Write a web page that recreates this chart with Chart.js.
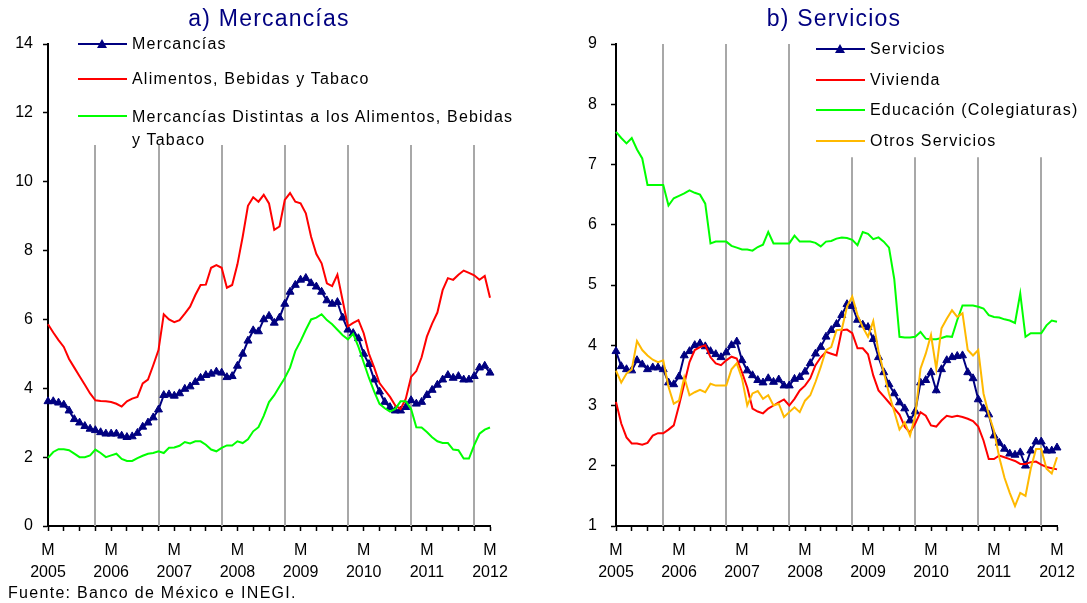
<!DOCTYPE html>
<html>
<head>
<meta charset="utf-8">
<script src="https://cdn.jsdelivr.net/npm/chart.js@4.4.1/dist/chart.umd.min.js"></script>
<style>
  html,body{margin:0;padding:0;background:#fff;}
  #wrap{position:relative;width:1087px;height:603px;overflow:hidden;font-family:"Liberation Sans",Arial,sans-serif;}
  canvas{position:absolute;top:0;}
  .title{position:absolute;top:4px;font-size:23px;letter-spacing:1.2px;color:#000080;white-space:nowrap;transform:translateX(-50%);line-height:28px;}
  .lg{position:absolute;height:2px;}
  .lt{position:absolute;font-size:16px;letter-spacing:1.2px;color:#000;line-height:22px;white-space:nowrap;}
  .tri{position:absolute;width:0;height:0;border-left:5px solid transparent;border-right:5px solid transparent;border-bottom:9px solid #000080;}
  #foot{position:absolute;left:8px;top:583px;font-size:16px;letter-spacing:1.3px;line-height:20px;color:#000;white-space:nowrap;}
</style>
</head>
<body>
<div id="wrap">
  <canvas id="c1" width="540" height="603" style="left:0px"></canvas>
  <canvas id="c2" width="547" height="603" style="left:540px"></canvas>
  <div class="title" style="left:269px">a) Mercancías</div>
  <div class="title" style="left:834px">b) Servicios</div>
  <div id="legends"></div>
  <div id="foot">Fuente: Banco de México e INEGI.</div>
</div>
<script>
// ---- categories (monthly, Mar 2005 - Mar 2012) ----
const startYear = 2005, startMonth = 3, nMonths = 85;
const months = [];
for (let k = 0; k < nMonths; k++) {
  const m = startMonth - 1 + k;
  months.push((startYear + Math.floor(m / 12)) + '-' + String(m % 12 + 1).padStart(2, '0'));
}
const tickMonthLetter = 'M';
const tickYears = ['2005','2006','2007','2008','2009','2010','2011','2012'];

// ---- a) Mercancías ----
const mercancias = [
  3.62,3.62,3.58,3.52,3.35,3.10,3.00,2.90,2.82,2.78,2.72,2.68,
  2.68,2.68,2.62,2.58,2.60,2.70,2.88,3.00,3.15,3.38,3.80,3.82,
  3.78,3.85,3.98,4.05,4.18,4.30,4.38,4.42,4.48,4.45,4.32,4.35,
  4.65,5.00,5.38,5.68,5.65,6.00,6.10,5.90,6.05,6.45,6.80,7.00,
  7.15,7.20,7.05,6.95,6.80,6.55,6.45,6.50,6.05,5.70,5.60,5.45,
  5.00,4.70,4.25,3.90,3.60,3.45,3.35,3.35,3.45,3.65,3.55,3.60,
  3.80,3.95,4.10,4.25,4.38,4.30,4.35,4.25,4.25,4.35,4.60,4.65,4.45
];
const alimentos = [
  5.86,5.62,5.40,5.20,4.85,4.60,4.35,4.10,3.85,3.65,3.63,3.62,
  3.60,3.55,3.47,3.62,3.70,3.75,4.14,4.25,4.67,5.11,6.15,6.00,
  5.92,5.98,6.17,6.37,6.71,7.00,7.01,7.50,7.58,7.50,6.92,7.00,
  7.60,8.40,9.30,9.55,9.42,9.62,9.37,8.60,8.70,9.47,9.67,9.42,
  9.37,9.08,8.40,7.90,7.63,7.05,6.97,7.30,6.55,5.80,5.90,5.98,
  5.60,5.00,4.60,4.15,3.95,3.75,3.50,3.40,3.70,4.33,4.50,4.90,
  5.50,5.88,6.20,6.85,7.20,7.15,7.30,7.42,7.35,7.28,7.15,7.26,6.63
];
const distintas = [
  1.98,2.15,2.23,2.23,2.20,2.10,2.00,2.00,2.05,2.22,2.12,2.00,
  2.05,2.10,1.95,1.89,1.89,1.97,2.04,2.10,2.12,2.17,2.12,2.27,
  2.28,2.33,2.44,2.40,2.46,2.46,2.36,2.22,2.17,2.27,2.34,2.34,
  2.46,2.41,2.52,2.75,2.87,3.20,3.60,3.80,4.05,4.30,4.60,5.08,
  5.37,5.70,6.00,6.05,6.15,5.98,5.86,5.70,5.54,5.42,5.58,5.20,
  4.75,4.30,3.90,3.55,3.42,3.32,3.40,3.62,3.62,3.40,2.87,2.86,
  2.73,2.58,2.46,2.41,2.41,2.22,2.20,1.96,1.96,2.35,2.68,2.80,2.86
];

// ---- b) Servicios ----
const servicios = [
  3.90,3.65,3.60,3.58,3.75,3.68,3.60,3.63,3.63,3.60,3.38,3.35,
  3.48,3.83,3.90,4.00,4.03,3.98,3.90,3.85,3.80,3.88,4.00,4.06,
  3.75,3.58,3.50,3.42,3.38,3.45,3.39,3.43,3.33,3.33,3.44,3.47,
  3.56,3.70,3.86,3.97,4.14,4.25,4.35,4.50,4.68,4.65,4.42,4.34,
  4.30,4.10,3.80,3.55,3.35,3.20,3.05,2.95,2.75,2.90,3.38,3.42,
  3.55,3.25,3.60,3.75,3.80,3.82,3.83,3.55,3.45,3.10,2.95,2.85,
  2.50,2.38,2.28,2.20,2.18,2.22,2.00,2.25,2.40,2.40,2.25,2.25,2.30
];
const vivienda = [
  3.06,2.70,2.47,2.37,2.37,2.35,2.38,2.50,2.54,2.54,2.60,2.67,
  3.00,3.36,3.72,3.92,3.97,4.00,3.80,3.70,3.67,3.75,3.81,3.78,
  3.55,3.30,2.95,2.90,2.87,2.95,3.00,3.05,3.10,3.00,3.11,3.25,
  3.33,3.45,3.67,3.80,3.89,3.86,3.83,4.25,4.26,4.20,3.95,3.95,
  3.85,3.50,3.25,3.15,3.05,2.95,2.85,2.65,2.55,2.70,2.89,2.83,
  2.67,2.65,2.75,2.83,2.81,2.83,2.81,2.78,2.74,2.65,2.42,2.11,
  2.11,2.17,2.14,2.11,2.08,2.03,2.03,2.06,2.07,2.02,1.98,1.96,1.94
];
const educacion = [
  7.54,7.44,7.35,7.44,7.25,7.10,6.66,6.66,6.66,6.66,6.32,6.44,
  6.48,6.52,6.57,6.53,6.50,6.35,5.69,5.72,5.72,5.72,5.65,5.62,
  5.59,5.59,5.57,5.63,5.67,5.88,5.69,5.69,5.69,5.69,5.82,5.72,
  5.72,5.72,5.70,5.64,5.72,5.73,5.77,5.79,5.78,5.75,5.66,5.88,
  5.85,5.76,5.79,5.72,5.62,5.10,4.14,4.13,4.13,4.14,4.22,4.11,
  4.10,4.10,4.12,4.15,4.14,4.42,4.66,4.66,4.66,4.64,4.61,4.50,
  4.47,4.46,4.43,4.41,4.37,4.86,4.14,4.20,4.20,4.20,4.33,4.41,4.39
];
const otros = [
  3.58,3.38,3.53,3.60,4.07,3.92,3.83,3.76,3.72,3.75,3.31,3.03,
  3.08,3.47,3.17,3.22,3.26,3.22,3.36,3.33,3.33,3.33,3.60,3.70,
  3.45,3.00,3.20,3.24,3.11,3.17,3.00,3.03,2.81,2.89,2.97,2.89,
  3.08,3.17,3.39,3.64,3.92,3.97,4.25,4.26,4.64,4.81,4.50,4.30,
  4.14,4.40,3.90,3.55,3.20,2.90,2.60,2.72,2.50,2.83,3.61,3.86,
  4.17,3.61,4.28,4.44,4.58,4.47,4.53,3.92,3.83,3.92,3.20,2.85,
  2.58,2.14,1.80,1.55,1.33,1.55,1.50,1.95,2.28,2.28,1.95,1.87,2.14
];

// December markers (vertical separators)
const decemberIdx = [9,21,33,45,57,69,81];

const NAVY = '#000080', RED = '#ff0000', GREEN = '#00ff00', ORANGE = '#ffb900';
const FONT = '"Liberation Sans", Arial, sans-serif';

const decGrid = {
  id: 'decGrid',
  beforeDatasetsDraw(chart, args, opts) {
    const {ctx, scales: {x, y}} = chart;
    ctx.save();
    ctx.strokeStyle = '#a8a8a8';
    ctx.lineWidth = 2;
    decemberIdx.forEach((idx, k) => {
      const px = Math.round(x.getPixelForValue(idx));
      const top = y.getPixelForValue(opts.tops[k]);
      ctx.beginPath();
      ctx.moveTo(px, top);
      ctx.lineTo(px, y.bottom);
      ctx.stroke();
    });
    ctx.restore();
  }
};

function lineDs(label, data, color, order, tri) {
  return {
    label, data, order,
    borderColor: color, backgroundColor: color,
    borderWidth: 2, tension: 0,
    pointRadius: tri ? 4.6 : 0,
    pointStyle: 'triangle',
    pointBorderWidth: 1,
    pointBorderColor: color,
    pointBackgroundColor: color
  };
}

function makeOptions(ymin, ymax, step, yWidth, padRight, yPad, tops) {
  return {
    responsive: false, animation: false, events: [],
    layout: {padding: {top: 44, right: padRight, left: 0, bottom: 0}},
    plugins: {legend: {display: false}, tooltip: {enabled: false}, title: {display: false},
              decGrid: {tops}},
    scales: {
      x: {
        type: 'category', offset: false,
        grid: {drawOnChartArea: false, drawTicks: true, tickLength: 5,
               color: 'rgba(0,0,0,0)',
               tickColor: c => (c.index % 3 === 0 ? '#000' : 'rgba(0,0,0,0)'), tickWidth: 1.5},
        border: {display: true, color: '#000', width: 2},
        ticks: {
          autoSkip: false, maxRotation: 0, minRotation: 0, padding: 9,
          color: '#000', font: {family: FONT, size: 16, lineHeight: 1.35},
          callback: (v, i) => (i % 12 === 0 ? [tickMonthLetter, tickYears[i / 12]] : '')
        },
        afterFit: s => { s.height = 77; }
      },
      y: {
        min: ymin, max: ymax,
        grid: {drawOnChartArea: false, tickLength: 5, tickColor: '#000', tickWidth: 1.5},
        border: {display: true, color: '#000', width: 2},
        ticks: {stepSize: step, padding: yPad, color: '#000', font: {family: FONT, size: 16}},
        afterFit: s => { s.width = yWidth; }
      }
    }
  };
}

new Chart(document.getElementById('c1'), {
  type: 'line',
  data: {
    labels: months,
    datasets: [
      lineDs('Mercancías', mercancias, NAVY, 2, true),
      lineDs('Alimentos, Bebidas y Tabaco', alimentos, RED, 1, false),
      lineDs('Mercancías Distintas a los Alimentos, Bebidas y Tabaco', distintas, GREEN, 0, false)
    ]
  },
  options: makeOptions(0, 14, 2, 48, 50, 10, [11.07,11.07,11.07,11.07,11.07,11.07,11.07]),
  plugins: [decGrid]
});

new Chart(document.getElementById('c2'), {
  type: 'line',
  data: {
    labels: months,
    datasets: [
      lineDs('Servicios', servicios, NAVY, 3, true),
      lineDs('Vivienda', vivienda, RED, 2, false),
      lineDs('Educación (Colegiaturas)', educacion, GREEN, 1, false),
      lineDs('Otros Servicios', otros, ORANGE, 0, false)
    ]
  },
  options: makeOptions(1, 9, 1, 76, 30, 14, [9,9,9,7.12,7.12,7.12,7.12]),
  plugins: [decGrid]
});

// ---- HTML legends ----
const legendItems = [
  {x: 78, y: 44, text: 'Mercancías', color: NAVY, tri: true},
  {x: 78, y: 79, text: 'Alimentos, Bebidas y Tabaco', color: RED},
  {x: 78, y: 116, text: 'Mercancías Distintas a los Alimentos, Bebidas', color: GREEN, extra: 'y Tabaco'},
  {x: 816, y: 49, text: 'Servicios', color: NAVY, tri: true},
  {x: 816, y: 80, text: 'Vivienda', color: RED},
  {x: 816, y: 110, text: 'Educación (Colegiaturas)', color: GREEN},
  {x: 816, y: 141, text: 'Otros Servicios', color: ORANGE}
];
const lgBox = document.getElementById('legends');
legendItems.forEach(it => {
  const ln = document.createElement('div');
  ln.className = 'lg';
  ln.style.cssText = `left:${it.x}px;top:${it.y - 1}px;width:49px;background:${it.color};`;
  lgBox.appendChild(ln);
  if (it.tri) {
    const t = document.createElement('div');
    t.className = 'tri';
    t.style.left = (it.x + 24 - 5) + 'px';
    t.style.top = (it.y - 5) + 'px';
    lgBox.appendChild(t);
  }
  const tx = document.createElement('div');
  tx.className = 'lt';
  tx.style.left = (it.x + 54) + 'px';
  tx.style.top = (it.y - 11) + 'px';
  tx.innerHTML = it.text + (it.extra ? '<br>' + it.extra : '');
  if (it.extra) tx.style.lineHeight = '23px';
  lgBox.appendChild(tx);
});
</script>
</body>
</html>
